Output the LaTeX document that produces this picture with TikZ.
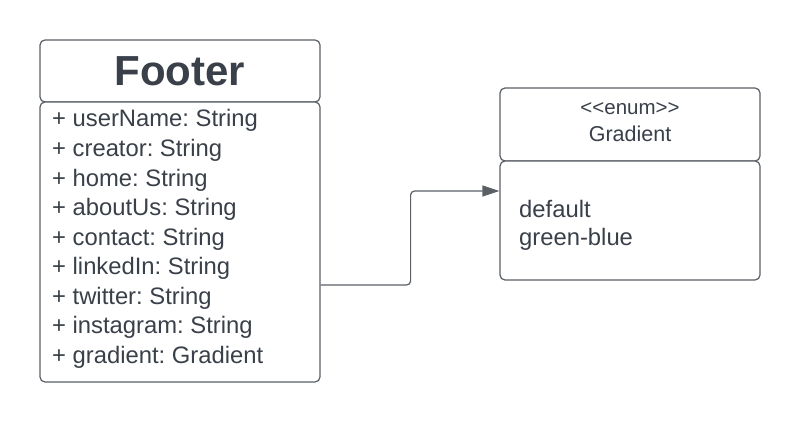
\documentclass[tikz,border=0pt]{standalone}
\usepackage{fontspec}
\setmainfont{Liberation Sans}
\usetikzlibrary{arrows.meta}
\definecolor{umlline}{HTML}{5A5F66}
\definecolor{umltext}{HTML}{3A4049}
\frenchspacing

\begin{document}
\begin{tikzpicture}[x=1pt, y=-1pt,
  umlbox/.style={draw=umlline, line width=1.2pt, rounded corners=5pt, fill=white, inner sep=0pt},
  attr/.style={anchor=base west, inner sep=0pt, text=umltext, font=\fontsize{23.8}{27}\selectfont},
  link/.style={draw=umlline, line width=1.2pt, rounded corners=4pt, -{Triangle[length=17pt,width=11pt]}}]

\useasboundingbox (0,0) rectangle (800,422);

% Footer class
\node[umlbox, minimum width=280pt, minimum height=62pt] (foothead) at (180,71) {};
\node[umlbox, minimum width=280pt, minimum height=280pt] (footbody) at (180,242) {};
\node[text=umltext, font=\fontsize{42}{42}\bfseries] (foottitle) at (180,71) {Footer};

\foreach \t [count=\i] in {+ userName: String, + creator: String, + home: String, + aboutUs: String, + contact: String, + linkedIn: String, + twitter: String, + instagram: String, + gradient: Gradient}
  \node[attr] (fattr\i) at (52,{127+(\i-1)*29.5}) {\t};

% Gradient enum
\node[umlbox, minimum width=260pt, minimum height=73pt] (gradhead) at (630,124.5) {};
\node[umlbox, minimum width=260pt, minimum height=119pt] (gradbody) at (630,220.5) {};
\node[anchor=base, inner sep=0pt, text=umltext, font=\fontsize{20.5}{20}\selectfont] (stereo) at (630,115) {<\kern0pt<enum>\kern0pt>};
\node[anchor=base, inner sep=0pt, text=umltext, font=\fontsize{21.5}{20}\selectfont] (gradtitle) at (630,142) {Gradient};
\node[attr] (gval1) at (519,217) {default};
\node[attr] (gval2) at (519,245) {green-blue};

\draw[link] ([yshift=-43pt]footbody.east) -- ++(90,0) |- ([yshift=29.5pt]gradbody.west);

\end{tikzpicture}
\end{document}
